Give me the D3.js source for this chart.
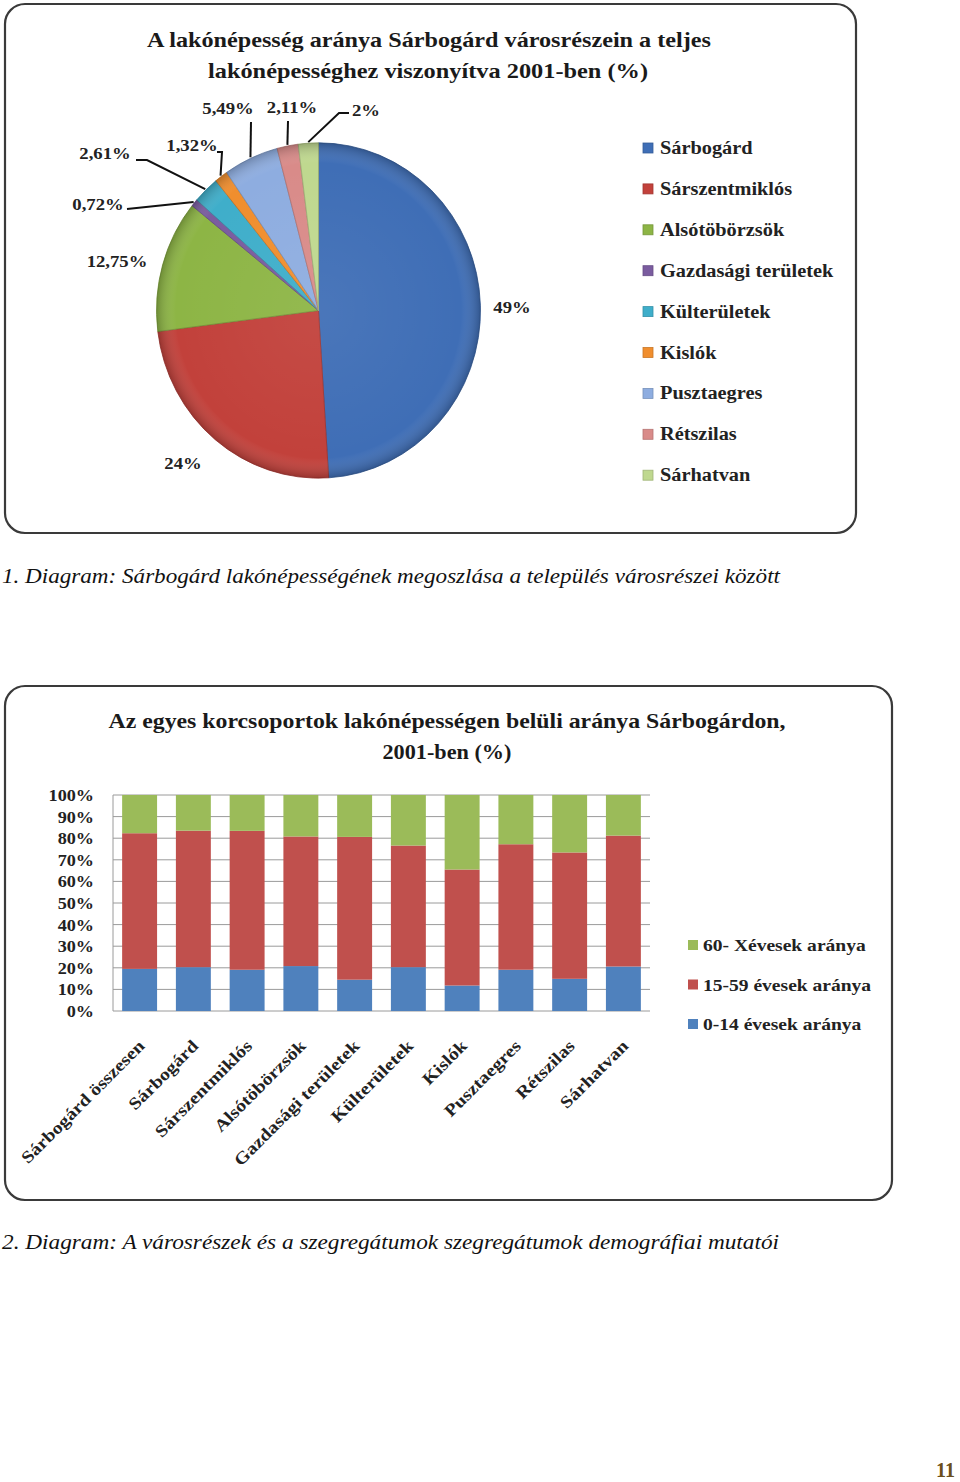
<!DOCTYPE html>
<html><head><meta charset="utf-8">
<script src="https://cdn.jsdelivr.net/npm/d3@7"></script>
<style>body{margin:0;background:#fff}svg{display:block}</style>
</head><body>
<svg id="page" width="960" height="1482"></svg>
<script>
// ---------- DATA ----------
const pieCategories = ["Sárbogárd","Sárszentmiklós","Alsótöbörzsök","Gazdasági területek","Külterületek","Kislók","Pusztaegres","Rétszilas","Sárhatvan"];
const pieValues = [49, 24, 12.75, 0.72, 2.61, 1.32, 5.49, 2.11, 2];
const pieLabels = ["49%","24%","12,75%","0,72%","2,61%","1,32%","5,49%","2,11%","2%"];

const barCategories = ["Sárbogárd összesen","Sárbogárd","Sárszentmiklós","Alsótöbörzsök","Gazdasági területek","Külterületek","Kislók","Pusztaegres","Rétszilas","Sárhatvan"];
const age0_14  = [19.5, 20.3, 19.1, 20.8, 14.5, 20.3, 11.8, 19.1, 14.9, 20.6];
const age15_59 = [62.8, 63.2, 64.3, 60.0, 66.1, 56.3, 53.7, 58.1, 58.5, 60.6];
const age60    = [17.7, 16.5, 16.6, 19.2, 19.4, 23.4, 34.5, 22.8, 26.6, 18.8];
const seriesNames = ["0-14 évesek aránya","15-59 évesek aránya","60- Xévesek aránya"];
const yTicks = [0,10,20,30,40,50,60,70,80,90,100];
const yTickLabels = ["0%","10%","20%","30%","40%","50%","60%","70%","80%","90%","100%"];

// ---------- STYLE / LAYOUT ----------
const SERIF = "'Liberation Serif','DejaVu Serif',serif";
const pieColors = ["#3F6EB6","#C2413B","#8DB545","#7A5C9F","#3FAECA","#F08E2E","#8EADE0","#D98B89","#BFD88F"];
const barColors = ["#4F81BD","#C0504D","#9BBB59"];
// label placement for pie (layout only)
const pieLabelLayout = [
  {tx:512, ty:313},
  {tx:183, ty:469},
  {tx:117, ty:267},
  {tx:98,  ty:210, lead:[[127,209]]},
  {tx:105, ty:159, lead:[[136,160],[147,160]]},
  {tx:192, ty:151, lead:[[217,152],[222,152]]},
  {tx:228, ty:114, lead:[[251,122]]},
  {tx:292, ty:113, lead:[[288,121]]},
  {tx:366, ty:116, lead:[[349,113],[339,113]]}
];

const svg = d3.select("#page");
svg.append("rect").attr("width",960).attr("height",1482).attr("fill","#fff");

function fit(sel, w){ sel.attr("textLength", w).attr("lengthAdjust","spacingAndGlyphs"); return sel; }
// text stretched horizontally (to mimic the wider Palatino-like face)
function wideText(parent, x, y, str, opt){
  const g = parent.append("g").attr("transform",`translate(${x},${y})${opt.rot?` rotate(${opt.rot})`:""} scale(${opt.sx||1},1)`);
  return g.append("text").attr("text-anchor",opt.anchor||"start")
    .attr("font-family",SERIF).attr("font-weight",opt.weight||"bold").attr("font-size",opt.size||17)
    .attr("fill",opt.fill||"#222").text(str);
}

// ---------- CHART 1 : PIE ----------
const g1 = svg.append("g");
g1.append("rect").attr("x",5).attr("y",4).attr("width",851).attr("height",529)
  .attr("rx",20).attr("fill","#fff").attr("stroke","#3a3a3a").attr("stroke-width",2.2);

fit(g1.append("text").attr("x",429).attr("y",47).attr("text-anchor","middle")
  .attr("font-family",SERIF).attr("font-weight","bold").attr("font-size",21).attr("fill","#1a1a1a")
  .text("A lakónépesség aránya Sárbogárd városrészein a teljes"),564);
fit(g1.append("text").attr("x",428).attr("y",78).attr("text-anchor","middle")
  .attr("font-family",SERIF).attr("font-weight","bold").attr("font-size",21).attr("fill","#1a1a1a")
  .text("lakónépességhez viszonyítva 2001-ben (%)"),440);

const cx = 318.5, cy = 310.5, R = 162, SY = 1.035;
const defs = svg.append("defs");
const rg = defs.append("radialGradient").attr("id","bevel").attr("cx","50%").attr("cy","50%").attr("r","50%");
rg.append("stop").attr("offset","0%").attr("stop-color","#fff").attr("stop-opacity",0.06);
rg.append("stop").attr("offset","88%").attr("stop-color","#fff").attr("stop-opacity",0);
rg.append("stop").attr("offset","100%").attr("stop-color","#000").attr("stop-opacity",0.22);

const pie = d3.pie().sort(null).value(d=>d)(pieValues);
const arc = d3.arc().innerRadius(0).outerRadius(R);
const pg = g1.append("g").attr("transform",`translate(${cx},${cy}) scale(1,${SY})`);
pg.selectAll("path.slice").data(pie).join("path").attr("class","slice")
  .attr("d",arc).attr("fill",(d,i)=>pieColors[i])
  .attr("stroke",(d,i)=>d3.color(pieColors[i]).darker(0.6)).attr("stroke-width",0.8);
pg.append("circle").attr("r",R).attr("fill","url(#bevel)").attr("pointer-events","none");

// labels + leaders
pie.forEach((d,i)=>{
  const L = pieLabelLayout[i];
  wideText(g1, L.tx, L.ty, pieLabels[i], {anchor:"middle", size:17, sx:1.1});
  if(L.lead){
    const a = (d.startAngle+d.endAngle)/2;
    const ex = cx + (R+1)*Math.sin(a), ey = cy - (R+1)*SY*Math.cos(a);
    const pts = L.lead.concat([[ex,ey]]);
    g1.append("path").attr("d",d3.line()(pts)).attr("fill","none")
      .attr("stroke","#111").attr("stroke-width",2);
  }
});

// legend
const lg1 = g1.append("g");
pieCategories.forEach((c,i)=>{
  const y = 148 + i*40.9;
  lg1.append("rect").attr("x",643).attr("y",y-5).attr("width",10).attr("height",10)
    .attr("fill",pieColors[i]).attr("stroke",d3.color(pieColors[i]).darker(0.5)).attr("stroke-width",0.8);
  wideText(lg1, 660, y+6, c, {size:18, sx:1.13});
});

// caption 1
fit(svg.append("text").attr("x",2).attr("y",583).attr("font-family",SERIF).attr("font-style","italic")
  .attr("font-size",21).attr("fill","#111")
  .text("1. Diagram: Sárbogárd lakónépességének megoszlása a település városrészei között"),778);

// ---------- CHART 2 : STACKED BARS ----------
const g2 = svg.append("g");
g2.append("rect").attr("x",5).attr("y",686).attr("width",887).attr("height",514)
  .attr("rx",20).attr("fill","#fff").attr("stroke","#3a3a3a").attr("stroke-width",2.2);

fit(g2.append("text").attr("x",447).attr("y",728).attr("text-anchor","middle")
  .attr("font-family",SERIF).attr("font-weight","bold").attr("font-size",21).attr("fill","#1a1a1a")
  .text("Az egyes korcsoportok lakónépességen belüli aránya Sárbogárdon,"),677);
fit(g2.append("text").attr("x",447).attr("y",759).attr("text-anchor","middle")
  .attr("font-family",SERIF).attr("font-weight","bold").attr("font-size",21).attr("fill","#1a1a1a")
  .text("2001-ben (%)"),129);

const x = d3.scaleBand().domain(barCategories).range([113,650]).paddingInner(0.35).paddingOuter(0.17);
const y = d3.scaleLinear().domain([0,100]).range([1011,795]);

// gridlines
g2.append("g").selectAll("line").data(yTicks).join("line")
  .attr("x1",113).attr("x2",650).attr("y1",d=>y(d)).attr("y2",d=>y(d))
  .attr("stroke","#9a9a9a").attr("stroke-width",1);
g2.append("line").attr("x1",113).attr("x2",113).attr("y1",y(0)).attr("y2",y(100)).attr("stroke","#9a9a9a");

// y axis labels
const yAxis = d3.axisLeft(y).tickValues(yTicks).tickSize(0).tickPadding(0)
  .tickFormat((d,i)=>yTickLabels[i]);
const ya = g2.append("g").attr("transform","translate(94,0)").call(yAxis);
ya.select(".domain").remove();
ya.selectAll("text").attr("font-family",SERIF).attr("font-weight","bold").attr("font-size",17)
  .attr("fill","#222").attr("transform","scale(1.07,1)");

// stacks
const rows = barCategories.map((c,i)=>({cat:c, s0:age0_14[i], s1:age15_59[i], s2:age60[i]}));
const stack = d3.stack().keys(["s0","s1","s2"])(rows);
g2.append("g").selectAll("g").data(stack).join("g").attr("fill",(d,i)=>barColors[i])
  .selectAll("rect").data(d=>d).join("rect")
  .attr("x",d=>x(d.data.cat)).attr("width",x.bandwidth())
  .attr("y",d=>y(d[1])).attr("height",d=>y(d[0])-y(d[1]));

// x labels
const xl = g2.append("g");
barCategories.forEach(c=>{
  wideText(xl, x(c)+x.bandwidth()/2+6, 1047, c, {anchor:"end", rot:-45, size:17, sx:1.17});
});

// legend
const legOrder = [2,1,0];
legOrder.forEach((si,k)=>{
  const yy = 945 + k*39.5;
  g2.append("rect").attr("x",688).attr("y",yy-5).attr("width",10).attr("height",10).attr("fill",barColors[si]);
  wideText(g2, 703, yy+6, seriesNames[si], {size:17, sx:1.15});
});

// caption 2
fit(svg.append("text").attr("x",2).attr("y",1249).attr("font-family",SERIF).attr("font-style","italic")
  .attr("font-size",21).attr("fill","#111")
  .text("2. Diagram: A városrészek és a szegregátumok szegregátumok demográfiai mutatói"),777);

// page number
svg.append("text").attr("x",955).attr("y",1477).attr("text-anchor","end").attr("font-family",SERIF)
  .attr("font-weight","bold").attr("font-size",20).attr("fill","#6B4F1D").text("11");
</script>
</body></html>
